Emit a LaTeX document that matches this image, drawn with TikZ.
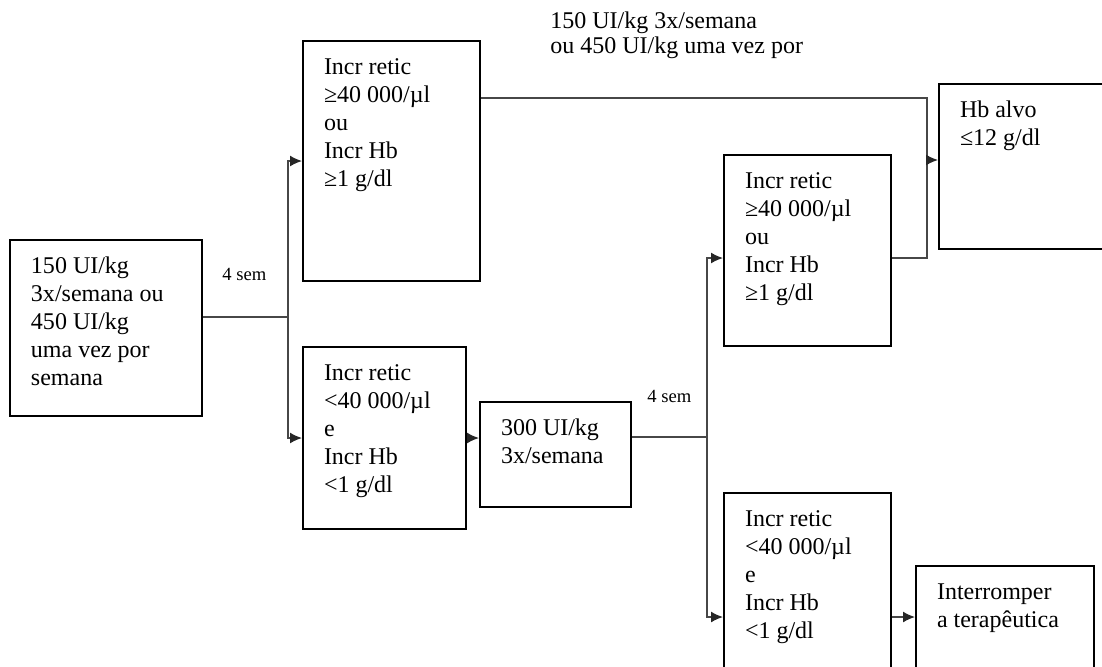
\documentclass[tikz,border=0pt]{standalone}
\usepackage{fontspec}
\setmainfont{Liberation Serif}
\usetikzlibrary{arrows.meta,calc}
\newcommand{\boxtext}[3]{\parbox[t][\dimexpr #2pt/2-13.4pt\relax][t]{\dimexpr #1pt/2-21pt\relax}{\raggedright\strut #3}}

\begin{document}
\begin{tikzpicture}[x=0.5pt,y=-0.5pt,
box/.style={draw,line width=1pt,anchor=north west,inner xsep=10.5pt,inner ysep=6.7pt,font=\fontsize{12}{14}\selectfont},
line/.style={draw=black!72,line width=0.75pt},
arr/.style={line,-{Latex[length=6pt,width=5.5pt,color=black!85]}},
wk/.style={anchor=base west,inner sep=0pt,font=\fontsize{9.3}{11}\selectfont}]
\useasboundingbox (0,0) rectangle (1102,666);
\clip (0,0) rectangle (1102,666);
% boxes
\node[box](start)at(9,239){\boxtext{192}{176}{150 UI/kg\\3x/semana ou\\450 UI/kg\\uma vez por\\semana}};
\node[box](upA)at(302,40){\boxtext{177}{240}{Incr retic\\≥40 000/µl\\ou\\Incr Hb\\≥1 g/dl}};
\node[box](lowA)at(302,346){\boxtext{163}{182}{Incr retic\\<40 000/µl\\e\\Incr Hb\\<1 g/dl}};
\node[box](dose)at(479,401){\boxtext{151}{105}{300 UI/kg\\3x/semana}};
\node[box](upB)at(723,154){\boxtext{167}{191}{Incr retic\\≥40 000/µl\\ou\\Incr Hb\\≥1 g/dl}};
\node[box](lowB)at(723,492){\boxtext{167}{190}{Incr retic\\<40 000/µl\\e\\Incr Hb\\<1 g/dl}};
\node[box](target)at(938,83){\boxtext{180}{165}{Hb alvo\\≤12 g/dl}};
\node[box](stop)at(915,565){\boxtext{178}{120}{Interromper\\a terapêutica}};
\node[anchor=north west,inner sep=0pt,font=\fontsize{12}{12.5}\selectfont](keep)at(550,10.5){\parbox[t]{150pt}{\strut 150 UI/kg 3x/semana\\ou 450 UI/kg uma vez por}};
\node[wk](w1)at(222,280){4 sem};
\node[wk](w2)at(647,402){4 sem};
% connectors
\coordinate(s1)at(288,317);
\coordinate(s2)at(707,437);
\coordinate(m1)at(927,160);
\coordinate(b1)at($(upA.north east)+(0,58)$);
\coordinate(e1)at($(upB.north east)+(0,104)$);
\coordinate(e2)at($(upB.north west)+(0,104)$);
\coordinate(f1)at($(lowB.north east)+(0,125)$);
\coordinate(f2)at($(lowB.north west)+(0,125)$);
\draw[line](start.east|-s1)--(s1);
\draw[arr](s1)|-(upA.west);
\draw[arr](s1)|-(lowA.west);
\draw[arr](lowA.east)--(lowA.east-|dose.west);
\draw[line](dose.east|-s2)--(s2);
\draw[arr](s2)|-(e2);
\draw[arr](s2)|-(f2);
\draw[arr](f1)--(f1-|stop.west);
\draw[line](b1)-|(m1);
\draw[line](e1)-|(m1);
\draw[arr](m1)--(m1-|target.west);
\end{tikzpicture}
\end{document}
